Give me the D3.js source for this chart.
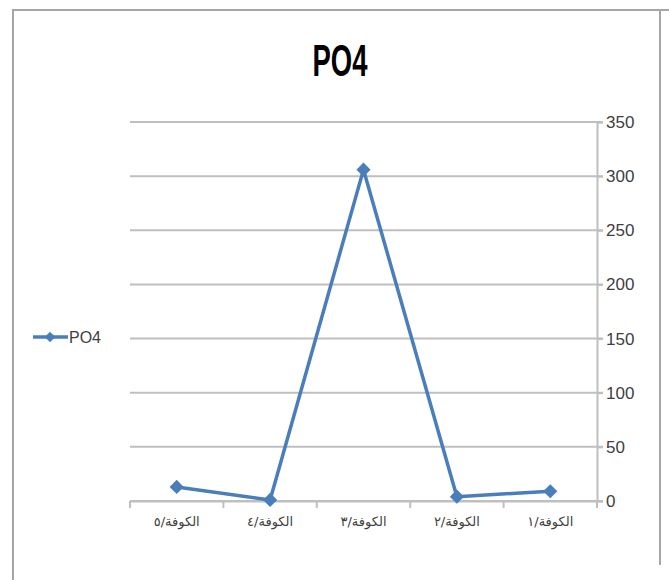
<!DOCTYPE html>
<meta charset="utf-8">
<script src="https://d3js.org/d3.v7.min.js"></script>
<style>
  body { margin: 0; background: #fff; }
  text { font-family: "Liberation Sans Narrow", "Liberation Sans", Arial, sans-serif; }
</style>
<div id="chart"></div>
<script>
// data (x axis runs right-to-left, as in the original)
var categories = ["الكوفة/٥", "الكوفة/٤", "الكوفة/٣", "الكوفة/٢", "الكوفة/١"];
var po4 = [13, 1, 306, 4, 9];
var yTicks = [0, 50, 100, 150, 200, 250, 300, 350];

var W = 669, H = 580;
var svg = d3.select("#chart").append("svg")
    .attr("width", W)
    .attr("height", H);

// outer frame of the chart
svg.append("path")
    .attr("d", "M13,580 L13,10 L669,10 M660,10 L660,565")
    .attr("fill", "none")
    .attr("stroke", "#a6a6a6")
    .attr("stroke-width", 2);

// plot area
var plotLeft = 130, plotRight = 597, plotTop = 122, plotBottom = 501;

var x = d3.scaleBand()
    .domain(categories)
    .range([plotLeft, plotRight]);

var y = d3.scaleLinear()
    .domain([0, 350])
    .range([plotBottom, plotTop]);

// gridlines
svg.append("g")
  .selectAll("line")
  .data(yTicks)
  .join("line")
    .attr("x1", plotLeft)
    .attr("x2", plotRight + 6)
    .attr("y1", d => y(d))
    .attr("y2", d => y(d))
    .attr("stroke", "#bfbfbf")
    .attr("stroke-width", 2);

// right axis
var yAxis = svg.append("g")
    .attr("transform", "translate(" + plotRight + ",0)")
    .call(d3.axisRight(y).tickValues(yTicks).tickSize(6).tickPadding(3));
yAxis.select(".domain").attr("stroke", "#bfbfbf").attr("stroke-width", 2);
yAxis.selectAll(".tick line").attr("stroke", "#bfbfbf").attr("stroke-width", 2);
yAxis.selectAll("text")
    .attr("fill", "#404040")
    .style("font-size", "17px")
    .style("font-family", "'Liberation Sans Narrow', 'Liberation Sans', sans-serif");

// bottom axis
var xAxis = svg.append("g")
    .attr("transform", "translate(0," + plotBottom + ")")
    .call(d3.axisBottom(x).tickSize(0).tickPadding(16));
xAxis.select(".domain").attr("stroke", "#bfbfbf").attr("stroke-width", 2);
xAxis.selectAll("text")
    .attr("fill", "#404040")
    .style("font-size", "13px")
    .style("font-family", "'DejaVu Sans', sans-serif");

// tick marks between categories
var edges = categories.map(c => x(c)).concat([plotRight]);
svg.append("g")
  .selectAll("line")
  .data(edges)
  .join("line")
    .attr("x1", d => d)
    .attr("x2", d => d)
    .attr("y1", plotBottom)
    .attr("y2", plotBottom + 7)
    .attr("stroke", "#bfbfbf")
    .attr("stroke-width", 2);

var blue = "#4a7ebb";

// the series line
var line = d3.line()
    .x((d, i) => x(categories[i]) + x.bandwidth() / 2)
    .y(d => y(d));

svg.append("path")
    .datum(po4)
    .attr("d", line)
    .attr("fill", "none")
    .attr("stroke", blue)
    .attr("stroke-width", 3.5)
    .attr("stroke-linejoin", "round");

// markers: squares turned 45 degrees, like Excel's diamond
var diamond = d3.symbol().type(d3.symbolSquare).size(100);
svg.append("g")
  .selectAll("path")
  .data(po4)
  .join("path")
    .attr("d", diamond)
    .attr("transform", (d, i) => "translate(" + (x(categories[i]) + x.bandwidth() / 2) + "," + y(d) + ") rotate(45)")
    .attr("fill", blue);

// title
svg.append("text")
    .attr("x", 340)
    .attr("y", 76)
    .attr("text-anchor", "middle")
    .attr("textLength", 55)
    .attr("lengthAdjust", "spacingAndGlyphs")
    .style("font-size", "45px")
    .style("font-weight", "bold")
    .attr("fill", "#000")
    .text("PO4");

// legend
var ly = 337;
svg.append("line")
    .attr("x1", 33).attr("x2", 68)
    .attr("y1", ly).attr("y2", ly)
    .attr("stroke", blue)
    .attr("stroke-width", 3.5);
svg.append("path")
    .attr("d", d3.symbol().type(d3.symbolSquare).size(55))
    .attr("transform", "translate(50," + ly + ") rotate(45)")
    .attr("fill", blue);
svg.append("text")
    .attr("x", 69)
    .attr("y", ly + 6)
    .attr("textLength", 32)
    .attr("lengthAdjust", "spacingAndGlyphs")
    .style("font-size", "17px")
    .attr("fill", "#404040")
    .text("PO4");
</script>
